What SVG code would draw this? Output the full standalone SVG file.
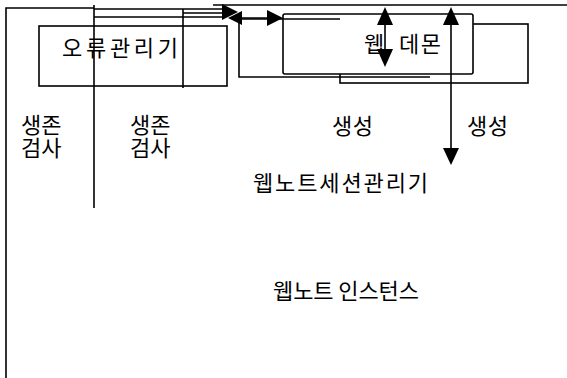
<svg xmlns="http://www.w3.org/2000/svg" width="567" height="378" viewBox="0 0 567 378">
<style>
.l{fill:none;stroke:#000;stroke-width:1.6}
.b{fill:#fff;stroke:#000;stroke-width:1.6}
.h{fill:#000;stroke:none}
text{font-family:"Noto Sans CJK KR",sans-serif;font-size:22px;fill:#000}
</style>
<rect width="567" height="378" fill="#fff"/>
<g id="frame">
<path class="l" d="M6,378 V8 H94"/>
<path class="l" d="M213,5 H567"/>
<path class="l" d="M94,5 V208"/>
<path class="l" d="M183,9 V88"/>
</g>
<g id="error-manager">
<rect class="l" x="39" y="26" width="188" height="60"/>
<text x="62" y="56" textLength="116" lengthAdjust="spacing">오류관리기</text>
</g>
<g id="web-daemon">
<rect class="l" x="340" y="24" width="188" height="59"/>
<rect class="b" x="283" y="14" width="190" height="60" rx="2"/>
<path class="l" d="M340,19 H239 V77 H430"/>
<text x="364" y="52">웹</text>
<text x="399" y="52" textLength="42" lengthAdjust="spacing">데몬</text>
</g>
<g id="labels">
<text x="21" y="133">생존<tspan x="21" y="156">검사</tspan></text>
<text x="130" y="133">생존<tspan x="130" y="156">검사</tspan></text>
<text x="332" y="134" textLength="41" lengthAdjust="spacing">생성</text>
<text x="467" y="134" textLength="41" lengthAdjust="spacing">생성</text>
</g>
<g id="session-manager">
<text x="253" y="191" textLength="175" lengthAdjust="spacing">웹노트세션관리기</text>
</g>
<g id="instance">
<text x="273" y="299" textLength="146" lengthAdjust="spacing">웹노트 인스턴스</text>
</g>
<g id="connectors">
<path class="l" d="M94,9 H224 M183,13 H224 M94,17 H224"/>
<polygon class="h" points="238,12 222,4 222,20"/>
<path class="l" d="M236,18 H275"/>
<polygon class="h" points="228,18 242,11 242,25"/>
<polygon class="h" points="283,18 267,10 267,26"/>
<path class="l" d="M385,20 V55"/>
<polygon class="h" points="385,7 377,25 393,25"/>
<polygon class="h" points="385,67 377,49 393,49"/>
<path class="l" d="M451,20 V152"/>
<polygon class="h" points="451,7 443,25 459,25"/>
<polygon class="h" points="451,165 443,148 459,148"/>
</g>
</svg>
